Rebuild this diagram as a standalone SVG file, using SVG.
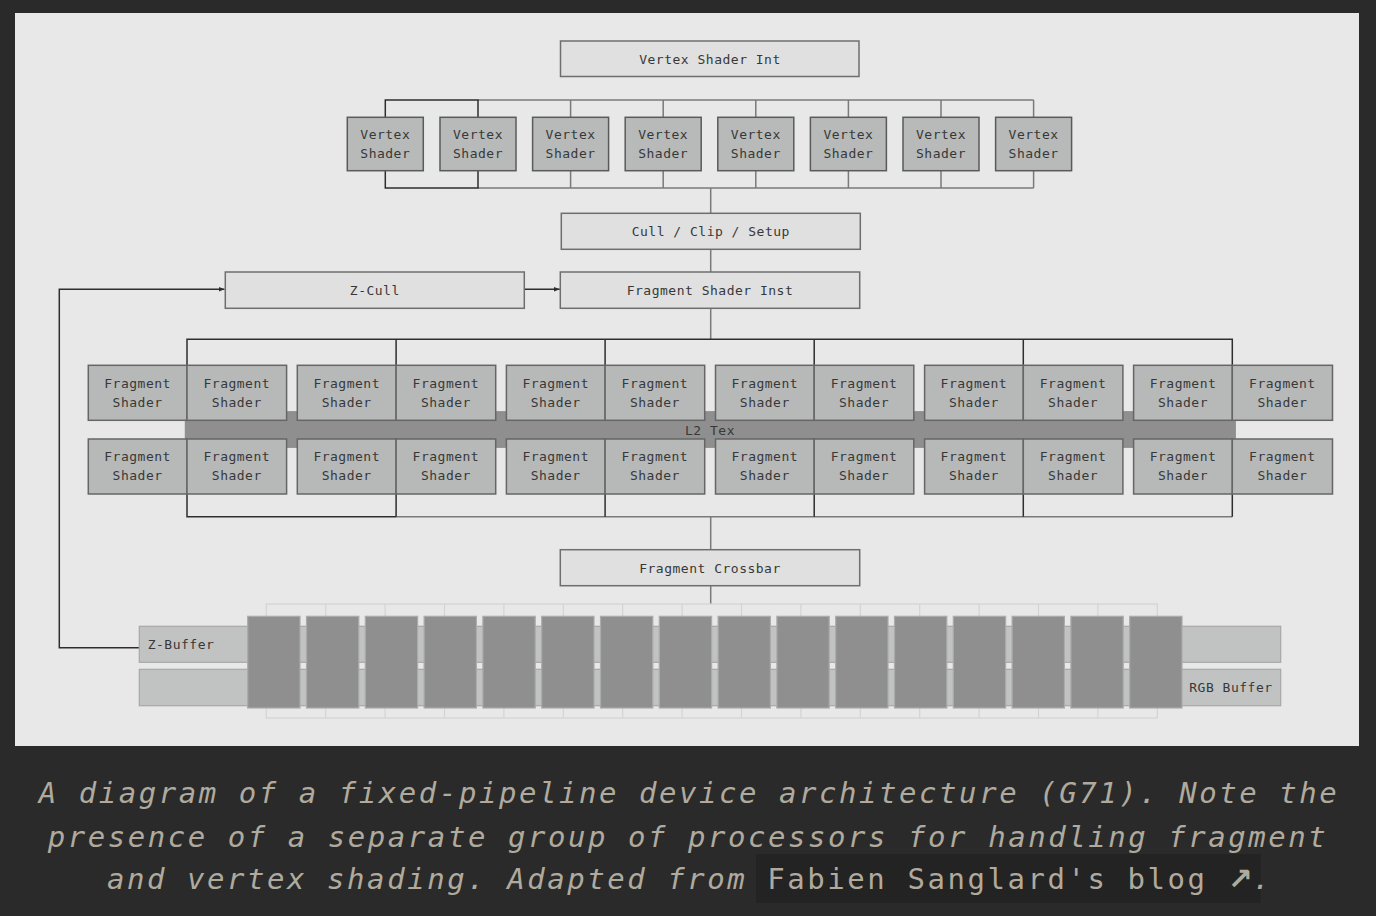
<svg xmlns="http://www.w3.org/2000/svg" width="1376" height="916" viewBox="0 0 1376 916">
<defs>
<style>
.t{font-family:"DejaVu Sans Mono","Liberation Mono",monospace;font-size:13px;letter-spacing:0.5px;fill:#383838;text-anchor:middle}
.tl{font-family:"DejaVu Sans Mono","Liberation Mono",monospace;font-size:13px;letter-spacing:0.5px;fill:#383838}
.lb{fill:#dfe0df;stroke:#6e6e6e;stroke-width:1.5}
.vs{fill:#b7bab9;stroke:#5a5a5a;stroke-width:1.5}
.fs{fill:#b6b9b8;stroke:#666;stroke-width:1.5}
.cg{fill:none;stroke:#7a7a7a;stroke-width:1.5}
.cd{fill:none;stroke:#2e2e2e;stroke-width:1.5}
.grid{fill:none;stroke:#d3d3d3;stroke-width:1.2}
.buf{fill:#c1c3c2;stroke:#a8a8a8;stroke-width:1.2}
.blk{fill:#8e8f8e;stroke:#ababab;stroke-width:1.2}
.cap{font-family:"DejaVu Sans Mono","Liberation Mono",monospace;font-size:29px;font-style:italic;letter-spacing:2.55px;fill:#b0aa9e}
</style>
<marker id="ah" viewBox="0 0 10 10" refX="10" refY="5" markerWidth="6" markerHeight="6" orient="auto" markerUnits="userSpaceOnUse">
<path d="M0,1 L10,5 L0,9 z" fill="#2e2e2e"/>
</marker>
</defs>
<rect width="1376" height="916" fill="#2a2a2a"/>
<rect x="15" y="13" width="1344" height="733" fill="#e8e8e8"/>

<g id="connectors">
<path class="cg" d="M478 100 H1033.6 M570.6 100 V117 M663.2 100 V117 M755.8 100 V117 M848.4 100 V117 M941 100 V117 M1033.6 100 V117"/>
<path class="cg" d="M478 188 H1033.6 M570.6 171 V188 M663.2 171 V188 M755.8 171 V188 M848.4 171 V188 M941 171 V188 M1033.6 171 V188"/>
<path class="cd" d="M385.3 117 V100 H478 V117 M385.3 171 V188 H478 V171"/>
<path class="cg" d="M710.7 188 V213.3 M710.7 249.3 V272 M710.7 308.3 V339.3"/>
<path class="cd" d="M187 365.3 V339.3 H1232.3 V365.3 M396.1 339.3 V365.3 M605.1 339.3 V365.3 M814.2 339.3 V365.3 M1023.3 339.3 V365.3"/>
<path class="cg" d="M396.1 516.7 H1232.3"/>
<path class="cd" d="M187 494 V516.7 H396.1 M396.1 494 V516.7 M605.1 494 V516.7 M814.2 494 V516.7 M1023.3 494 V516.7 M1232.3 494 V516.7"/>
<path class="cg" d="M710.7 516.7 V549.7 M710.7 585.7 V604"/>
<path class="cd" d="M140 647.7 H59.3 V289.3 H224.5" marker-end="url(#ah)" stroke-width="1.3"/>
<path class="cd" d="M524.3 289.3 H559.8" marker-end="url(#ah)" stroke-width="1.3"/>
</g>

<g id="vertex-shader-int"><rect class="lb" x="560.5" y="41" width="298.5" height="35.5"/><text class="t" x="710" y="63.5">Vertex Shader Int</text></g>

<g id="vertex-shader-1"><rect class="vs" x="347.3" y="117.3" width="76" height="53.4"/><text class="t" x="385.3" y="139">Vertex</text><text class="t" x="385.3" y="158">Shader</text></g>
<g id="vertex-shader-2"><rect class="vs" x="440" y="117.3" width="76" height="53.4"/><text class="t" x="478" y="139">Vertex</text><text class="t" x="478" y="158">Shader</text></g>
<g id="vertex-shader-3"><rect class="vs" x="532.6" y="117.3" width="76" height="53.4"/><text class="t" x="570.6" y="139">Vertex</text><text class="t" x="570.6" y="158">Shader</text></g>
<g id="vertex-shader-4"><rect class="vs" x="625.2" y="117.3" width="76" height="53.4"/><text class="t" x="663.2" y="139">Vertex</text><text class="t" x="663.2" y="158">Shader</text></g>
<g id="vertex-shader-5"><rect class="vs" x="717.8" y="117.3" width="76" height="53.4"/><text class="t" x="755.8" y="139">Vertex</text><text class="t" x="755.8" y="158">Shader</text></g>
<g id="vertex-shader-6"><rect class="vs" x="810.4" y="117.3" width="76" height="53.4"/><text class="t" x="848.4" y="139">Vertex</text><text class="t" x="848.4" y="158">Shader</text></g>
<g id="vertex-shader-7"><rect class="vs" x="903" y="117.3" width="76" height="53.4"/><text class="t" x="941" y="139">Vertex</text><text class="t" x="941" y="158">Shader</text></g>
<g id="vertex-shader-8"><rect class="vs" x="995.6" y="117.3" width="76" height="53.4"/><text class="t" x="1033.6" y="139">Vertex</text><text class="t" x="1033.6" y="158">Shader</text></g>

<g id="cull-clip-setup"><rect class="lb" x="561.3" y="213.3" width="299" height="36"/><text class="t" x="710.8" y="235.8">Cull / Clip / Setup</text></g>
<g id="z-cull"><rect class="lb" x="225.3" y="272" width="299" height="36.3"/><text class="t" x="374.8" y="294.8">Z-Cull</text></g>
<g id="fragment-shader-inst"><rect class="lb" x="560.3" y="272" width="299.4" height="36.3"/><text class="t" x="710" y="294.8">Fragment Shader Inst</text></g>

<g id="l2-tex"><rect x="185.3" y="411.7" width="1050" height="35.6" fill="#8e8f8e" stroke="#8a8a8a" stroke-width="1"/><text class="t" x="710" y="434.5">L2 Tex</text></g>

<g id="fragment-shaders-top">
<g id="fs-t1"><rect class="fs" x="88.3" y="365.3" width="98.7" height="55"/><text class="t" x="137.6" y="387.5">Fragment</text><text class="t" x="137.6" y="406.5">Shader</text></g>
<g id="fs-t2"><rect class="fs" x="187" y="365.3" width="99.6" height="55"/><text class="t" x="236.8" y="387.5">Fragment</text><text class="t" x="236.8" y="406.5">Shader</text></g>
<g id="fs-t3"><rect class="fs" x="297.3" y="365.3" width="98.8" height="55"/><text class="t" x="346.7" y="387.5">Fragment</text><text class="t" x="346.7" y="406.5">Shader</text></g>
<g id="fs-t4"><rect class="fs" x="396.1" y="365.3" width="99.6" height="55"/><text class="t" x="445.9" y="387.5">Fragment</text><text class="t" x="445.9" y="406.5">Shader</text></g>
<g id="fs-t5"><rect class="fs" x="506.4" y="365.3" width="98.7" height="55"/><text class="t" x="555.7" y="387.5">Fragment</text><text class="t" x="555.7" y="406.5">Shader</text></g>
<g id="fs-t6"><rect class="fs" x="605.1" y="365.3" width="99.6" height="55"/><text class="t" x="654.9" y="387.5">Fragment</text><text class="t" x="654.9" y="406.5">Shader</text></g>
<g id="fs-t7"><rect class="fs" x="715.5" y="365.3" width="98.7" height="55"/><text class="t" x="764.8" y="387.5">Fragment</text><text class="t" x="764.8" y="406.5">Shader</text></g>
<g id="fs-t8"><rect class="fs" x="814.2" y="365.3" width="99.6" height="55"/><text class="t" x="864" y="387.5">Fragment</text><text class="t" x="864" y="406.5">Shader</text></g>
<g id="fs-t9"><rect class="fs" x="924.6" y="365.3" width="98.7" height="55"/><text class="t" x="973.9" y="387.5">Fragment</text><text class="t" x="973.9" y="406.5">Shader</text></g>
<g id="fs-t10"><rect class="fs" x="1023.3" y="365.3" width="99.6" height="55"/><text class="t" x="1073.1" y="387.5">Fragment</text><text class="t" x="1073.1" y="406.5">Shader</text></g>
<g id="fs-t11"><rect class="fs" x="1133.6" y="365.3" width="98.7" height="55"/><text class="t" x="1183" y="387.5">Fragment</text><text class="t" x="1183" y="406.5">Shader</text></g>
<g id="fs-t12"><rect class="fs" x="1232.3" y="365.3" width="100.2" height="55"/><text class="t" x="1282.4" y="387.5">Fragment</text><text class="t" x="1282.4" y="406.5">Shader</text></g>
</g>
<g id="fragment-shaders-bottom">
<g id="fs-b1"><rect class="fs" x="88.3" y="439" width="98.7" height="55"/><text class="t" x="137.6" y="461">Fragment</text><text class="t" x="137.6" y="480">Shader</text></g>
<g id="fs-b2"><rect class="fs" x="187" y="439" width="99.6" height="55"/><text class="t" x="236.8" y="461">Fragment</text><text class="t" x="236.8" y="480">Shader</text></g>
<g id="fs-b3"><rect class="fs" x="297.3" y="439" width="98.8" height="55"/><text class="t" x="346.7" y="461">Fragment</text><text class="t" x="346.7" y="480">Shader</text></g>
<g id="fs-b4"><rect class="fs" x="396.1" y="439" width="99.6" height="55"/><text class="t" x="445.9" y="461">Fragment</text><text class="t" x="445.9" y="480">Shader</text></g>
<g id="fs-b5"><rect class="fs" x="506.4" y="439" width="98.7" height="55"/><text class="t" x="555.7" y="461">Fragment</text><text class="t" x="555.7" y="480">Shader</text></g>
<g id="fs-b6"><rect class="fs" x="605.1" y="439" width="99.6" height="55"/><text class="t" x="654.9" y="461">Fragment</text><text class="t" x="654.9" y="480">Shader</text></g>
<g id="fs-b7"><rect class="fs" x="715.5" y="439" width="98.7" height="55"/><text class="t" x="764.8" y="461">Fragment</text><text class="t" x="764.8" y="480">Shader</text></g>
<g id="fs-b8"><rect class="fs" x="814.2" y="439" width="99.6" height="55"/><text class="t" x="864" y="461">Fragment</text><text class="t" x="864" y="480">Shader</text></g>
<g id="fs-b9"><rect class="fs" x="924.6" y="439" width="98.7" height="55"/><text class="t" x="973.9" y="461">Fragment</text><text class="t" x="973.9" y="480">Shader</text></g>
<g id="fs-b10"><rect class="fs" x="1023.3" y="439" width="99.6" height="55"/><text class="t" x="1073.1" y="461">Fragment</text><text class="t" x="1073.1" y="480">Shader</text></g>
<g id="fs-b11"><rect class="fs" x="1133.6" y="439" width="98.7" height="55"/><text class="t" x="1183" y="461">Fragment</text><text class="t" x="1183" y="480">Shader</text></g>
<g id="fs-b12"><rect class="fs" x="1232.3" y="439" width="100.2" height="55"/><text class="t" x="1282.4" y="461">Fragment</text><text class="t" x="1282.4" y="480">Shader</text></g>
</g>

<g id="fragment-crossbar"><rect class="lb" x="560.3" y="549.7" width="299.4" height="36"/><text class="t" x="710" y="572.5">Fragment Crossbar</text></g>

<g id="memory">
<rect class="grid" x="266.3" y="604" width="891" height="114"/>
<path class="grid" d="M325.7 604V718M385.1 604V718M444.5 604V718M503.9 604V718M563.3 604V718M622.7 604V718M682.1 604V718M741.5 604V718M800.9 604V718M860.3 604V718M919.7 604V718M979.1 604V718M1038.5 604V718M1097.9 604V718"/>
<g id="z-buffer"><rect class="buf" x="139.3" y="626.3" width="1141.4" height="36"/><text class="tl" x="147.7" y="649">Z-Buffer</text></g>
<g id="rgb-buffer"><rect class="buf" x="139.3" y="669.3" width="1141.4" height="36.4"/><text class="tl" x="1189.3" y="692.3">RGB Buffer</text></g>
<g id="memory-blocks">
<rect class="blk" x="247.7" y="616.3" width="52.3" height="91.7"/>
<rect class="blk" x="306.5" y="616.3" width="52.3" height="91.7"/>
<rect class="blk" x="365.3" y="616.3" width="52.3" height="91.7"/>
<rect class="blk" x="424.1" y="616.3" width="52.3" height="91.7"/>
<rect class="blk" x="482.9" y="616.3" width="52.3" height="91.7"/>
<rect class="blk" x="541.7" y="616.3" width="52.3" height="91.7"/>
<rect class="blk" x="600.5" y="616.3" width="52.3" height="91.7"/>
<rect class="blk" x="659.3" y="616.3" width="52.3" height="91.7"/>
<rect class="blk" x="718.1" y="616.3" width="52.3" height="91.7"/>
<rect class="blk" x="776.9" y="616.3" width="52.3" height="91.7"/>
<rect class="blk" x="835.7" y="616.3" width="52.3" height="91.7"/>
<rect class="blk" x="894.5" y="616.3" width="52.3" height="91.7"/>
<rect class="blk" x="953.3" y="616.3" width="52.3" height="91.7"/>
<rect class="blk" x="1012.1" y="616.3" width="52.3" height="91.7"/>
<rect class="blk" x="1070.9" y="616.3" width="52.3" height="91.7"/>
<rect class="blk" x="1129.7" y="616.3" width="52.3" height="91.7"/>
</g>
</g>

<g id="caption">
<rect x="756" y="854" width="504.6" height="48.7" fill="#232323"/>
<text class="cap" x="689" y="802.7" text-anchor="middle">A diagram of a fixed-pipeline device architecture (G71). Note the</text>
<text class="cap" x="688" y="847.3" text-anchor="middle">presence of a separate group of processors for handling fragment</text>
<text class="cap" x="107" y="889.3">and vertex shading. Adapted from <tspan font-style="normal">Fabien Sanglard's blog </tspan><tspan font-style="normal" font-family="'DejaVu Sans',sans-serif" font-size="30px" font-weight="bold" letter-spacing="0">↗</tspan>.</text>
</g>
</svg>
